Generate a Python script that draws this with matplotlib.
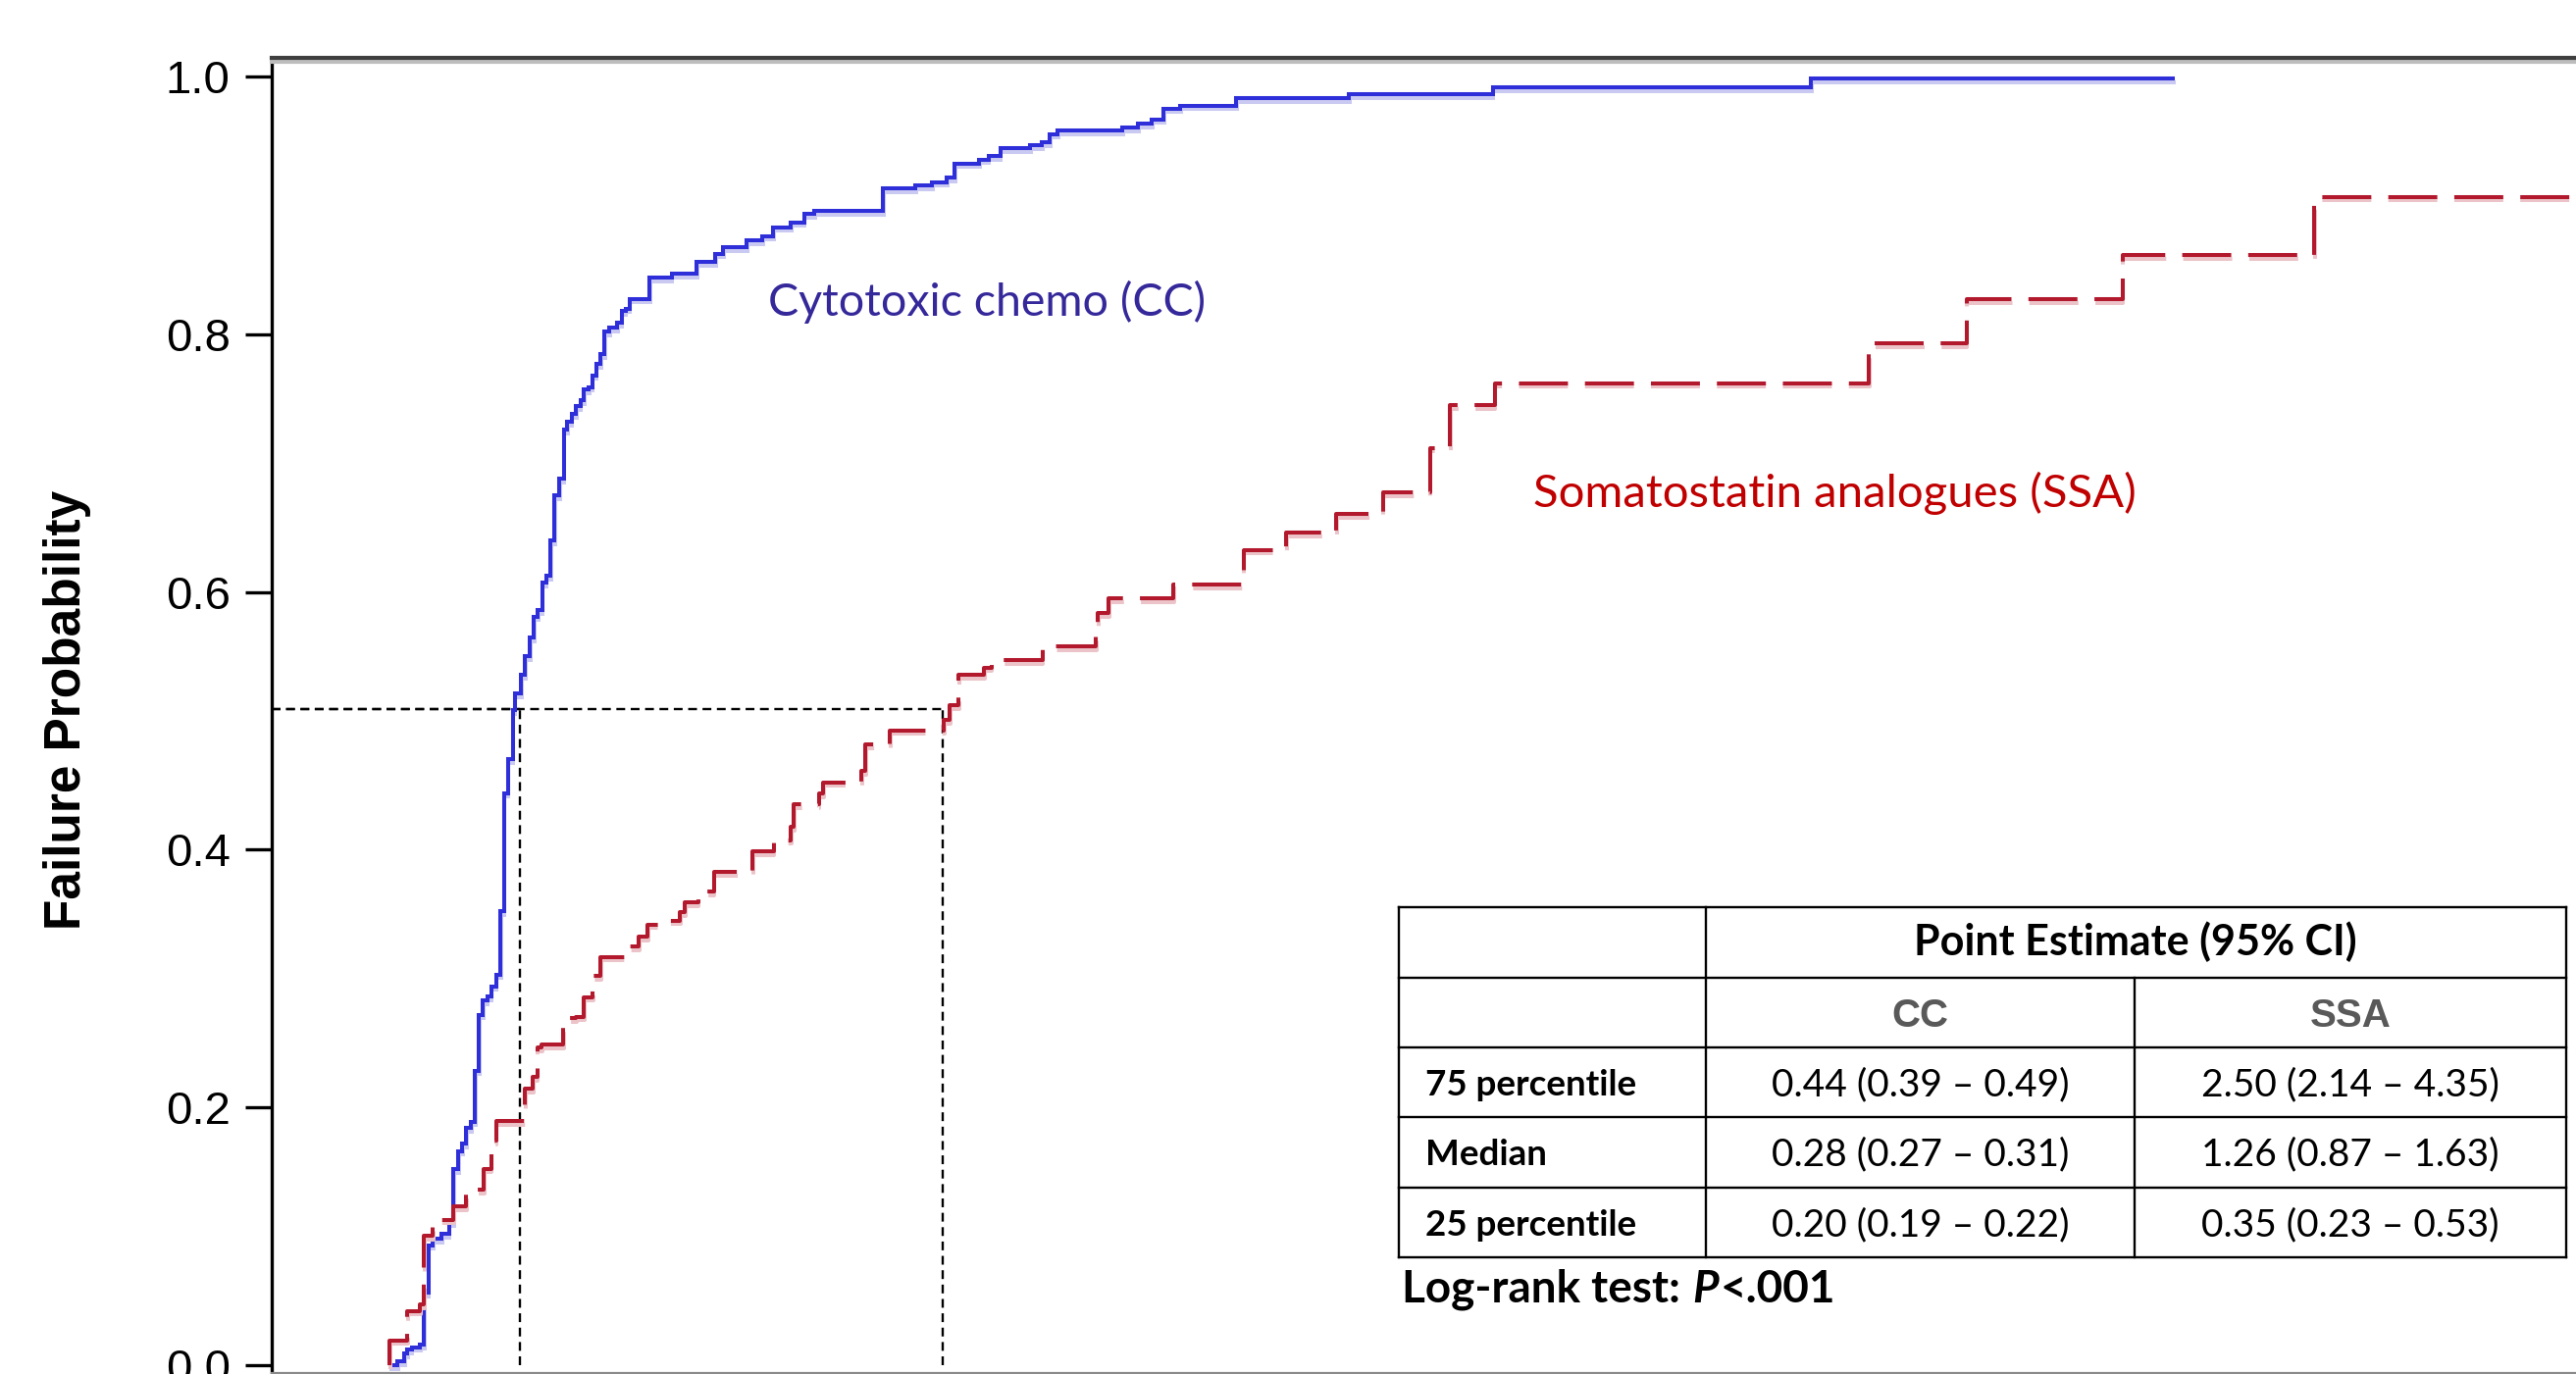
import matplotlib
matplotlib.use("Agg")
import matplotlib.pyplot as plt
import matplotlib.patheffects as pe
from matplotlib.lines import Line2D

# ---------------- data ----------------
cc_time = [-0.019, -0.004, 0.012, 0.019, 0.030, 0.049, 0.058, 0.068, 0.078, 0.099,
           0.116, 0.127, 0.137, 0.146, 0.156, 0.167, 0.176, 0.186, 0.195, 0.205,
           0.214, 0.225, 0.235, 0.243, 0.2526, 0.264, 0.268, 0.283, 0.2925, 0.303,
           0.312, 0.321, 0.332, 0.341, 0.351, 0.361, 0.371, 0.382, 0.390, 0.4005,
           0.410, 0.4205, 0.429, 0.440, 0.448, 0.457, 0.467, 0.477, 0.4875, 0.506,
           0.516, 0.525, 0.534, 0.581, 0.632, 0.690, 0.733, 0.752, 0.806, 0.842,
           0.867, 0.9075, 0.939, 0.9625, 1.122, 1.197, 1.236, 1.269, 1.288, 1.344,
           1.366, 1.393, 1.462, 1.490, 1.5075, 1.527, 1.676, 1.712, 1.745, 1.771,
           1.810, 1.9405, 2.2016, 2.534, 3.272]
cc_fail = [0.0, 0.003, 0.009, 0.012, 0.014, 0.016, 0.056, 0.093, 0.098, 0.102,
           0.111, 0.152, 0.166, 0.172, 0.184, 0.189, 0.2285, 0.272, 0.283, 0.286,
           0.294, 0.303, 0.352, 0.444, 0.470, 0.508, 0.521, 0.5355, 0.550, 0.5645,
           0.581, 0.586, 0.607, 0.6125, 0.640, 0.675, 0.688, 0.726, 0.732, 0.738,
           0.744, 0.7485, 0.757, 0.759, 0.768, 0.777, 0.7845, 0.802, 0.805, 0.809,
           0.818, 0.820, 0.8276, 0.8437, 0.847, 0.856, 0.8626, 0.8676, 0.8728, 0.8763,
           0.883, 0.8868, 0.8931, 0.8955, 0.913, 0.9153, 0.918, 0.9214, 0.9325, 0.9355,
           0.9383, 0.9444, 0.9465, 0.949, 0.9553, 0.958, 0.9604, 0.9635, 0.9667, 0.9751,
           0.9774, 0.9833, 0.9863, 0.9914, 0.9985]
cc_last_time = 4.11

ssa_time = [-0.021, -0.021, 0.019, 0.0494, 0.0585, 0.078, 0.1266, 0.1555, 0.197, 0.2139,
            0.2252, 0.2918, 0.3107, 0.3207, 0.331, 0.3805, 0.4107, 0.428, 0.4486, 0.4676,
            0.5266, 0.5555, 0.576, 0.6255, 0.6517, 0.6632, 0.6934, 0.7297, 0.819, 0.868,
            0.9075, 0.9155, 0.9727, 0.9839, 1.071, 1.0806, 1.138, 1.2623, 1.277, 1.2972,
            1.3553, 1.373, 1.491, 1.615, 1.620, 1.644, 1.795, 1.957, 2.0557, 2.1716,
            2.2795, 2.3886, 2.435, 2.539, 3.406, 3.632, 3.993, 4.438]
ssa_fail = [0.0, 0.0193, 0.042, 0.047, 0.1005, 0.113, 0.1233, 0.136, 0.1524, 0.174,
            0.1893, 0.2146, 0.2235, 0.2463, 0.2489, 0.2692, 0.2704, 0.2856, 0.3021, 0.3168,
            0.325, 0.3326, 0.342, 0.345, 0.3516, 0.3592, 0.3673, 0.3825, 0.3985, 0.4073,
            0.4175, 0.435, 0.4437, 0.4524, 0.4612, 0.4816, 0.4926, 0.5005, 0.5121, 0.5355,
            0.5413, 0.5471, 0.5578, 0.5698, 0.5837, 0.5951, 0.6058, 0.6327, 0.6459, 0.6606,
            0.6771, 0.7118, 0.7448, 0.762, 0.793, 0.8272, 0.8615, 0.9066]
ssa_last_time = 5.2

median_level = 0.509
cc_median = 0.28
ssa_median = 1.26

y_ticks = [0.0, 0.2, 0.4, 0.6, 0.8, 1.0]
y_label = "Failure Probability"
cc_label = "Cytotoxic chemo (CC)"
ssa_label = "Somatostatin analogues (SSA)"

table_header = "Point Estimate (95% CI)"
table_groups = ["CC", "SSA"]
table_rows = ["75 percentile", "Median", "25 percentile"]
cc_estimates = ["0.44 (0.39 \u2013 0.49)", "0.28 (0.27 \u2013 0.31)", "0.20 (0.19 \u2013 0.22)"]
ssa_estimates = ["2.50 (2.14 \u2013 4.35)", "1.26 (0.87 \u2013 1.63)", "0.35 (0.23 \u2013 0.53)"]
logrank_prefix = "Log-rank test:"
logrank_p = "P"
logrank_value = "<.001"

# ---------------- figure ----------------
W, H = 2626, 1401
fig = plt.figure(figsize=(W / 100, H / 100), dpi=100)
fig.patch.set_facecolor("white")


def fx(px):
    return px / W


def fy(py):
    return 1 - py / H


ax_left, ax_right, ax_top, ax_bottom = 277, 2626, 59, 1400
ax = fig.add_axes([fx(ax_left), fy(ax_bottom), (ax_right - ax_left) / W, (ax_bottom - ax_top) / H])
ax.set_xlim(-0.2945, 5.0441)
ax.set_ylim(-0.0061, 1.01446)
ax.set_facecolor("white")

blue = "#2F2FDA"
red = "#B3192D"

ax.step(cc_time + [cc_last_time], cc_fail + [cc_fail[-1]], where="post",
        color=blue, lw=2.9, solid_joinstyle="miter", zorder=4,
        path_effects=[pe.SimpleLineShadow(offset=(0.5, -2.6), shadow_color="#C9C9F2", alpha=1.0),
                      pe.Normal()])
ax.step(ssa_time + [ssa_last_time], ssa_fail + [ssa_fail[-1]], where="post",
        color=red, lw=2.9, linestyle=(0, (12.4, 4.3)), dash_capstyle="butt", zorder=4,
        path_effects=[pe.SimpleLineShadow(offset=(0.5, -2.6), shadow_color="#EBC3C8", alpha=1.0),
                      pe.Normal()])

# median reference lines
x0 = ax.get_xlim()[0]
dash_kw = dict(color="black", lw=1.7, linestyle=(0, (3.8, 2.4)), zorder=3)
ax.plot([x0, cc_median], [median_level, median_level], **dash_kw)
ax.plot([x0, ssa_median], [median_level, median_level], **dash_kw)
ax.plot([cc_median, cc_median], [0, median_level], **dash_kw)
ax.plot([ssa_median, ssa_median], [0, median_level], **dash_kw)

# spines / ticks
ax.spines["right"].set_visible(False)
ax.spines["top"].set_color("#3F3F3F")
ax.spines["top"].set_linewidth(3.0)
ax.spines["top"].set_path_effects([pe.SimpleLineShadow(offset=(0, -3.0), shadow_color="#BDBDBD", alpha=1.0),
                                   pe.Normal()])
ax.spines["left"].set_color("black")
ax.spines["left"].set_linewidth(2.4)
ax.spines["bottom"].set_color("#8A8A8A")
ax.spines["bottom"].set_linewidth(1.6)

ax.set_xticks([])
ax.set_yticks(y_ticks)
ax.set_yticklabels([f"{v:.1f}" for v in y_ticks], family="Liberation Sans", fontsize=34)
ax.tick_params(axis="y", direction="out", length=19.5, width=2.4, pad=11, colors="black")

ax.set_ylabel(y_label, family="Liberation Sans", fontweight="bold", fontsize=37)
ax.yaxis.set_label_coords((69 - ax_left) / (ax_right - ax_left), (ax_bottom - 724) / (ax_bottom - ax_top))
ax.yaxis.label.set_verticalalignment("center")

# curve labels
fig.text(fx(783), fy(322.5), cc_label, color="#35289A", fontsize=33.5, family="Lato",
         ha="left", va="baseline")
fig.text(fx(1563), fy(516.7), ssa_label, color="#C00000", fontsize=34, family="Lato",
         ha="left", va="baseline")

# ---------------- table ----------------
tL, tC1, tC2, tR = 1426, 1738.5, 2176, 2616
row_edges = [925, 996.7, 1067.7, 1139, 1211, 1282.3]
lw_t = 1.7
for y in row_edges:
    fig.add_artist(Line2D([fx(tL), fx(tR)], [fy(y), fy(y)], color="black", lw=lw_t,
                          transform=fig.transFigure))
for x in (tL, tC1, tR):
    fig.add_artist(Line2D([fx(x), fx(x)], [fy(row_edges[0]), fy(row_edges[-1])], color="black",
                          lw=lw_t, transform=fig.transFigure))
fig.add_artist(Line2D([fx(tC2), fx(tC2)], [fy(row_edges[1]), fy(row_edges[-1])], color="black",
                      lw=lw_t, transform=fig.transFigure))

baselines = [974, 1047, 1117.3, 1188.3, 1260]
fig.text(fx((tC1 + tR) / 2), fy(baselines[0]), table_header, family="Lato", fontweight="bold",
         fontsize=31, ha="center", va="baseline", color="black")
for name, cx in zip(table_groups, [(tC1 + tC2) / 2, (tC2 + tR) / 2]):
    fig.text(fx(cx), fy(baselines[1]), name, family="Liberation Sans", fontweight="bold",
             fontsize=29, ha="center", va="baseline", color="#595959")
for i, (rname, ccv, ssav) in enumerate(zip(table_rows, cc_estimates, ssa_estimates)):
    b = baselines[2 + i]
    fig.text(fx(1453), fy(b), rname, family="Lato", fontweight="bold", fontsize=26.5,
             ha="left", va="baseline", color="black")
    fig.text(fx((tC1 + tC2) / 2), fy(b), ccv, family="Lato", fontsize=28,
             ha="center", va="baseline", color="black")
    fig.text(fx((tC2 + tR) / 2), fy(b), ssav, family="Lato", fontsize=28,
             ha="center", va="baseline", color="black")

t1 = fig.text(fx(1429), fy(1328), logrank_prefix, family="Lato", fontweight="bold", fontsize=33,
              ha="left", va="baseline", color="black")
t2 = ax.annotate(logrank_p, xy=(1, 0), xycoords=t1, xytext=(9, 0), textcoords="offset points",
                 family="Lato", fontweight="bold", fontstyle="italic", fontsize=33,
                 ha="left", va="bottom", color="black", annotation_clip=False)
t3 = ax.annotate(logrank_value, xy=(1, 0), xycoords=t2, xytext=(1, 0), textcoords="offset points",
                 family="Lato", fontweight="bold", fontsize=33,
                 ha="left", va="bottom", color="black", annotation_clip=False)

fig.savefig("out.png", dpi=100, facecolor="white")
